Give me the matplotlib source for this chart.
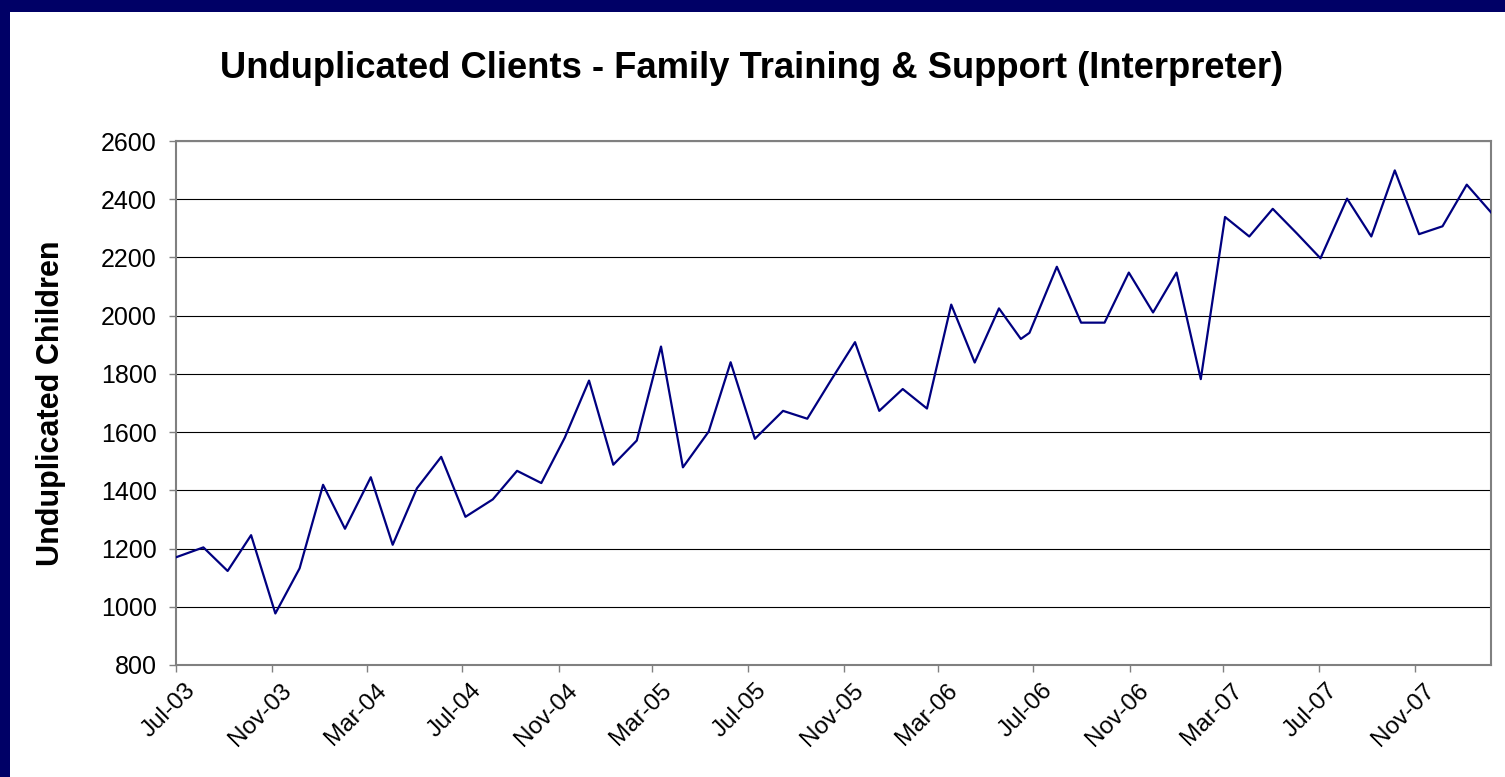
import matplotlib

matplotlib.use("Agg")
import matplotlib.pyplot as plt
import matplotlib.dates as mdates
import matplotlib.transforms as mtransforms
from matplotlib.patches import Rectangle
import numpy as np

dates = [
    "2003-07-01", "2003-08-05", "2003-09-05", "2003-10-05", "2003-11-05",
    "2003-12-06", "2004-01-05", "2004-02-02", "2004-03-06", "2004-04-03",
    "2004-05-04", "2004-06-04", "2004-07-05", "2004-08-09", "2004-09-09",
    "2004-10-10", "2004-11-09", "2004-12-10", "2005-01-10", "2005-02-09",
    "2005-03-12", "2005-04-09", "2005-05-12", "2005-06-09", "2005-07-10",
    "2005-08-15", "2005-09-15", "2005-10-15", "2005-11-15", "2005-12-16",
    "2006-01-15", "2006-02-15", "2006-03-18", "2006-04-17", "2006-05-18",
    "2006-06-15", "2006-06-26", "2006-07-31", "2006-08-31", "2006-09-30",
    "2006-10-31", "2006-12-01", "2006-12-31", "2007-01-31", "2007-03-03",
    "2007-04-03", "2007-05-03", "2007-06-03", "2007-07-03", "2007-08-06",
    "2007-09-06", "2007-10-06", "2007-11-06", "2007-12-06", "2008-01-06",
    "2008-02-06",
]
children = [
    1170, 1204, 1123, 1246, 977, 1132, 1419, 1268, 1445, 1213,
    1407, 1515, 1309, 1369, 1467, 1425, 1581, 1777, 1488, 1571,
    1894, 1479, 1602, 1840, 1577, 1673, 1646, 1777, 1909, 1673,
    1748, 1681, 2038, 1839, 2025, 1920, 1941, 2168, 1976, 1976,
    2148, 2011, 2148, 1782, 2339, 2272, 2367, 2282, 2197, 2402,
    2272, 2499, 2280, 2307, 2450, 2355,
]
y_ticks = list(range(800, 2601, 200))

title = "Unduplicated Clients - Family Training & Support (Interpreter)"
y_label = "Unduplicated Children"

plt.rcParams["font.family"] = ["Liberation Sans", "DejaVu Sans"]

x = np.array(dates, dtype="datetime64[D]")

fig = plt.figure(figsize=(15.05, 7.77), dpi=100)
fig.patch.set_facecolor("#000066")
# white slide area; the navy frame only shows on the left and top
fig.patches.append(
    Rectangle((10 / 1505, 0), 1, 1 - 12 / 777, transform=fig.transFigure,
              facecolor="white", edgecolor="none", zorder=-5)
)

ax = fig.add_axes([176 / 1505, 1 - 665 / 777, (1491 - 176) / 1505, (665 - 141) / 777])
ax.plot(x, children, color="#000080", linewidth=1.6, zorder=3)

ax.set_xlim(x[0], x[-1])
ax.set_ylim(800, 2600)
ax.set_yticks(y_ticks)
ax.yaxis.grid(True, color="black", linewidth=0.8)
ax.set_axisbelow(True)

ax.xaxis.set_major_locator(mdates.MonthLocator(bymonth=[3, 7, 11]))
ax.xaxis.set_major_formatter(mdates.DateFormatter("%b-%y"))

for side in ["top", "right", "left", "bottom"]:
    ax.spines[side].set_color("#808080")
    ax.spines[side].set_linewidth(1.5)

ax.tick_params(axis="y", direction="out", length=5, width=1, color="#808080",
               labelsize=18, pad=9)
ax.tick_params(axis="x", direction="out", length=5, width=1, color="#808080",
               labelsize=17.5, pad=4)
# excel puts the top-right corner of each slanted label right of its tick
shift = mtransforms.ScaledTranslation(0.08, -0.02, fig.dpi_scale_trans)
for lab in ax.get_xticklabels():
    lab.set_rotation(45)
    lab.set_ha("right")
    lab.set_va("top")
    lab.set_rotation_mode("anchor")
    lab.set_transform(lab.get_transform() + shift)

ax.set_ylabel(y_label, fontsize=22, fontweight="bold", labelpad=25)
fig.text(752 / 1505, 1 - 68 / 777, title, fontsize=26.2, fontweight="bold",
         ha="center", va="center")

fig.savefig("out.png", dpi=100, facecolor=fig.get_facecolor())
